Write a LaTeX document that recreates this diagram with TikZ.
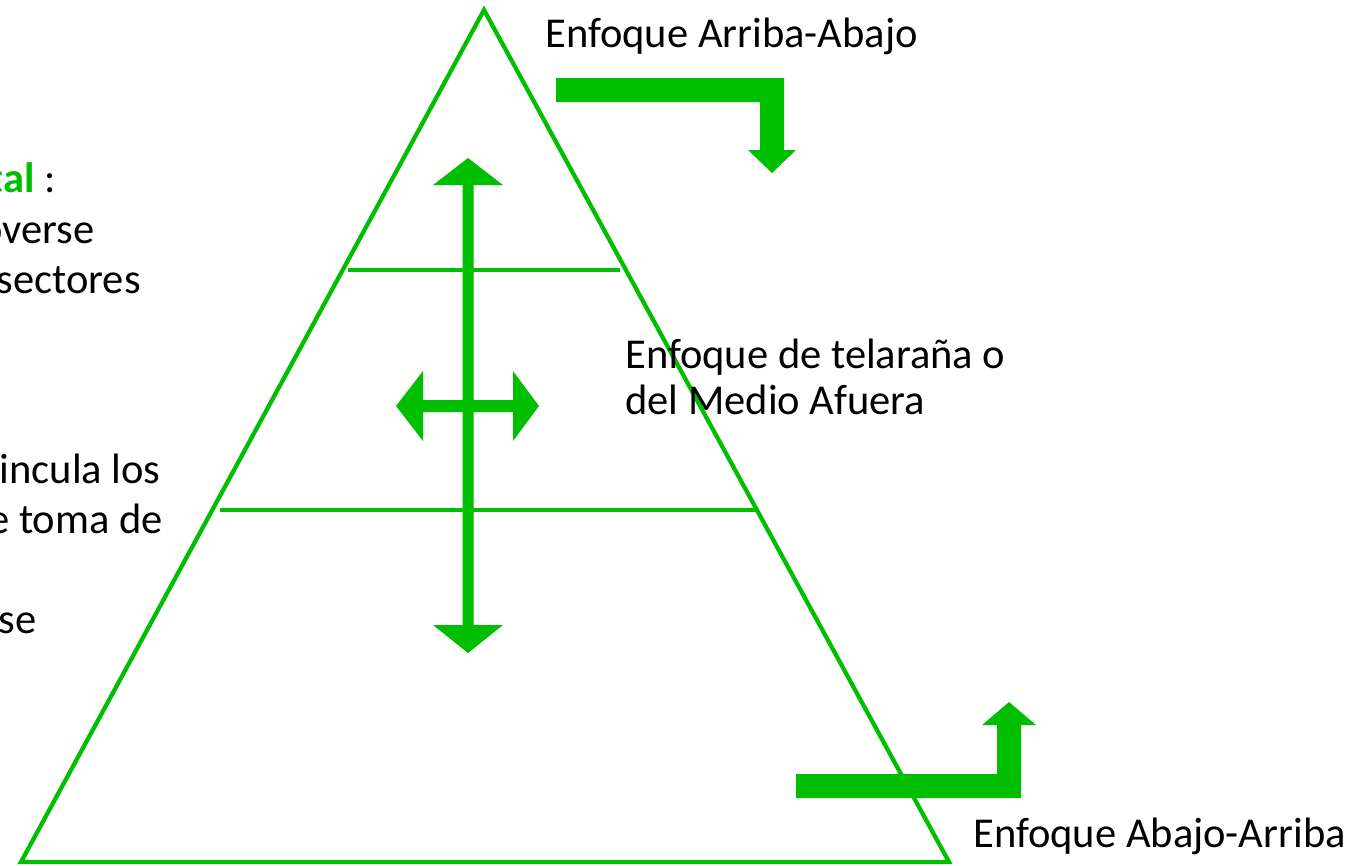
\documentclass[tikz,border=0pt]{standalone}
\usepackage{fontspec}
\setmainfont{Carlito}
\definecolor{pgreen}{RGB}{0,191,0}
\begin{document}
\begin{tikzpicture}[x=0.75pt,y=-0.75pt,
  edge/.style={draw=pgreen,line width=3.2pt},
  bigarrow/.style={fill=pgreen},
  lbl/.style={inner sep=0pt,font=\fontsize{31.9}{37.5}\selectfont,text=black},
  lblw/.style={lbl,anchor=base west},
  lble/.style={lbl,anchor=base east}]
\useasboundingbox (0,0) rectangle (1359,865);
% pyramid
\coordinate (apex) at (484,10);
\coordinate (bl) at (21,862);
\coordinate (br) at (949,862);
\draw[edge,line join=miter] (apex) -- (br) -- (bl) -- cycle;
\coordinate (l1a) at (348,270);
\coordinate (l1b) at (620,270);
\coordinate (l2a) at (220,510);
\coordinate (l2b) at (758,510);
\draw[edge] (l1a) -- (l1b);
\draw[edge] (l2a) -- (l2b);
% vertical double arrow
\fill[bigarrow] (468,158) -- (503,185) -- (473.5,185) -- (473.5,625) -- (503,625) -- (468,653)
  -- (433,625) -- (462.5,625) -- (462.5,185) -- (433,185) -- cycle;
% horizontal double arrow
\fill[bigarrow] (396,406) -- (423,371) -- (423,400) -- (513,400) -- (513,371) -- (539,406)
  -- (513,441) -- (513,412) -- (423,412) -- (423,441) -- cycle;
% top elbow arrow
\fill[bigarrow] (556,78) -- (784,78) -- (784,150) -- (796,150) -- (772,173) -- (748,150)
  -- (760,150) -- (760,102) -- (556,102) -- cycle;
% bottom elbow arrow
\fill[bigarrow] (796,774) -- (997,774) -- (997,725) -- (982,725) -- (1009,702) -- (1036,725)
  -- (1021,725) -- (1021,798) -- (796,798) -- cycle;
% labels
\node[lblw] (tdown) at (545,47) {Enfoque Arriba-Abajo};
\node[lblw] (web1) at (625,368) {Enfoque de telaraña o};
\node[lblw] (web2) at (625,414) {del Medio Afuera};
\node[lblw] (tup) at (973,847) {Enfoque Abajo-Arriba};
% left, cut-off texts (the reference shows them cut at the left edge)
\node[lble] (c1) at (56,192) {\textbf{\textcolor{pgreen}{tal}} :};
\node[lble] (c2) at (95,243) {overse};
\node[lble] (c3) at (141,293) {sectores};
\node[lble] (c4) at (161,483) {incula los};
\node[lble] (c5) at (163,533) {e toma de};
\node[lble] (c6) at (37,633) {se};
\end{tikzpicture}
\end{document}
